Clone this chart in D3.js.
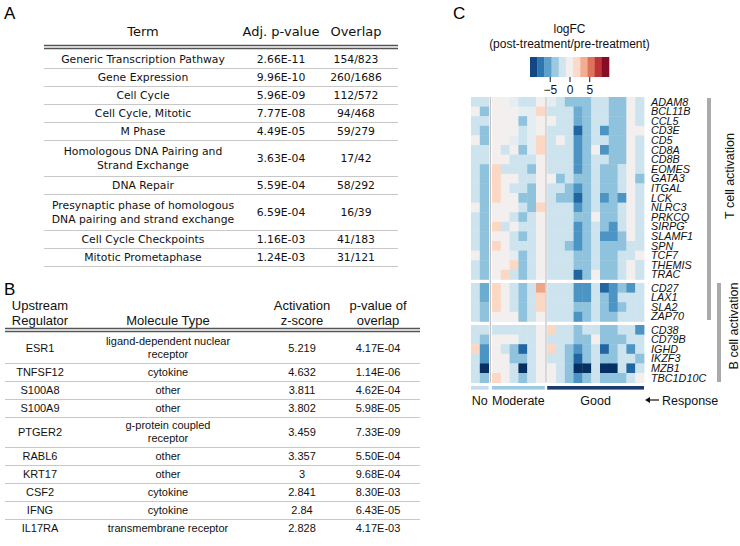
<!DOCTYPE html>
<html><head><meta charset="utf-8">
<script src="https://cdn.jsdelivr.net/npm/d3@7"></script>
<style>body{margin:0;background:#fff;} svg{display:block}</style>
</head><body>
<svg id="c" width="740" height="546"></svg>
<script>
// ---------- Panel A data ----------
const headersA = ["Term", "Adj. p-value", "Overlap"];
const termsA = ["Generic Transcription Pathway", "Gene Expression", "Cell Cycle", "Cell Cycle, Mitotic", "M Phase",
  "Homologous DNA Pairing and|Strand Exchange", "DNA Repair",
  "Presynaptic phase of homologous|DNA pairing and strand exchange", "Cell Cycle Checkpoints", "Mitotic Prometaphase"];
const adjPA = ["2.66E-11", "9.96E-10", "5.96E-09", "7.77E-08", "4.49E-05", "3.63E-04", "5.59E-04", "6.59E-04", "1.16E-03", "1.24E-03"];
const overlapA = ["154/823", "260/1686", "112/572", "94/468", "59/279", "17/42", "58/292", "16/39", "41/183", "31/121"];

// ---------- Panel B data ----------
const headersB = ["Upstream|Regulator", "Molecule Type", "Activation|z-score", "p-value of|overlap"];
const regulatorsB = ["ESR1", "TNFSF12", "S100A8", "S100A9", "PTGER2", "RABL6", "KRT17", "CSF2", "IFNG", "IL17RA"];
const moleculeTypesB = ["ligand-dependent nuclear|receptor", "cytokine", "other", "other", "g-protein coupled|receptor",
  "other", "other", "cytokine", "cytokine", "transmembrane receptor"];
const zScoresB = ["5.219", "4.632", "3.811", "3.802", "3.459", "3.357", "3", "2.841", "2.84", "2.828"];
const pValuesB = ["4.17E-04", "1.14E-06", "4.62E-04", "5.98E-05", "7.33E-09", "5.50E-04", "9.68E-04", "8.30E-03", "6.43E-05", "4.17E-03"];

// ---------- Panel C data ----------
const responseGroups = ["No", "Moderate", "Good"];
const groupSizes = [2, 6, 11];
const genes = ["ADAM8", "BCL11B", "CCL5", "CD3E", "CD5", "CD8A", "CD8B", "EOMES", "GATA3", "ITGAL", "LCK", "NLRC3", "PRKCQ",
  "SIRPG", "SLAMF1", "SPN", "TCF7", "THEMIS", "TRAC", "CD27", "LAX1", "SLA2", "ZAP70",
  "CD38", "CD79B", "IGHD", "IKZF3", "MZB1", "TBC1D10C"];
const geneBlockSizes = [19, 4, 6];
const pathwayLabels = ["T cell activation", "B cell activation"];
// columns: No(2) | Moderate(6) | Good(11)
const logFC = [
  [-2,-2, 0,0,-1,-2,-2,0, -1,-2,-4,-4,-4,-2,-2,-4,-4,0,-2],
  [0,-4, 0,0,0,-1,-1,2, -2,-2,-2,-5,-4,-2,-2,-4,-4,0,-2],
  [-2,-2, 0,0,0,-4,-1,0, 0,-2,-2,-5,-4,-2,-2,-4,-4,0,-2],
  [-2,-4, 0,0,0,-2,-1,0, -2,-2,-2,-8,-4,-2,-6,-4,-4,0,0],
  [0,-4, 0,0,-1,-2,-1,2, -2,0,-2,-6,-4,-2,-2,-4,-4,0,-2],
  [-2,-2, 0,-2,0,-4,-1,2, -2,-2,-2,-6,-4,0,-6,-4,-4,0,-2],
  [-2,-2, 0,0,-2,-2,-2,0, -2,-2,-2,-6,-4,-2,-2,-4,-4,0,-2],
  [-2,-4, 2,-2,-2,-2,-4,0, -2,-2,-2,-6,-4,-2,-4,-4,-2,0,-2],
  [-2,-4, 2,0,0,-2,-2,0, 0,-4,-2,-4,-4,-2,-4,-4,-2,0,-4],
  [-2,-4, 2,0,-2,-2,-4,0, -2,-2,-4,-6,-4,-2,-4,-4,-2,0,-2],
  [-2,-4, 2,0,0,-4,-4,0, -2,-4,-4,-8,-4,-2,-6,-4,-6,0,-2],
  [0,-4, 0,0,0,-2,-4,2, -2,-2,-2,-6,-4,-2,-4,-4,-2,0,-2],
  [-2,-4, 0,0,-2,-4,-2,0, -2,-2,-2,-4,-4,0,-4,-4,-2,0,-2],
  [-2,-4, 2,-2,0,-2,-2,0, -2,-2,-2,-6,-4,-2,-4,-6,-2,0,-2],
  [-2,-4, 0,0,-2,-4,-2,0, -2,-2,-2,-6,-4,-2,-6,-6,-4,0,-2],
  [-2,-4, 2,0,-2,-2,-2,0, -2,-2,-4,-6,-4,-2,-4,-4,-4,-2,-2],
  [0,-4, 0,0,-1,-4,-2,0, -2,-2,-2,-4,-4,-2,-4,-4,-2,-2,0],
  [-2,-4, 0,0,2,-4,-2,0, -2,-2,-2,-4,-4,-2,-4,-4,-2,0,-2],
  [-2,-4, 0,2,-2,-4,-2,0, -2,-2,-2,-8,-4,0,-4,-4,-2,0,-2],
  [-2,-5, 2,0,-2,-4,-2,4, -2,-2,-2,-6,-6,-2,-8,-6,-4,-6,-2],
  [-2,-5, 2,0,-2,-4,-2,2, -2,-2,-2,-6,-6,-2,-4,-6,-2,-2,-2],
  [-2,-4, 2,0,-2,-4,-2,2, -2,-2,-2,-4,-4,-2,-4,-6,-4,-2,-2],
  [-2,-4, 0,0,0,-4,-2,0, -2,-2,-2,-6,-4,-2,-4,-4,-2,-2,-2],
  [-2,-2, -2,-2,-2,-2,-2,0, 2,-2,-2,-4,-2,-2,-4,-4,-2,-2,-6],
  [-2,-4, 0,0,0,-2,-2,0, -2,-2,-2,-4,-4,0,-4,-4,-4,-2,-2],
  [2,-6, 0,-2,-4,-8,-2,0, 2,-2,-4,-6,-4,-2,-8,-4,-2,-6,-2],
  [-2,-6, 0,0,-4,-4,-2,0, -2,-2,-4,-8,-4,-2,-4,-4,-2,-2,-4],
  [-2,-10, 0,0,-2,-10,-2,0, 0,-2,-4,-10,-10,-2,-10,-10,-2,-8,-2],
  [-2,-4, 2,0,-2,-4,-2,0, 0,-2,-4,-6,-4,-2,-4,-4,-4,-2,0]
];
const colorbarDomain = [-10, 10];
const colorbarBins = 11;
const colorbarTicks = [-5, 0, 5];
const responseColors = ["#c6dbef", "#9ecae1", "#1b3a6f"];

// ---------------------------------------------------------
const svg = d3.select("#c");
const SANS = "'Liberation Sans', Arial, sans-serif";
const TABF = "'DejaVu Sans', Verdana, sans-serif";

function multiText(sel, str, x, yc, lh, size, family, anchor) {
  const lines = str.split("|");
  const t = sel.append("text").attr("x", x).attr("text-anchor", anchor || "middle")
    .attr("font-family", family).attr("font-size", size).attr("fill", "#111");
  const y0 = yc - (lines.length - 1) * lh / 2;
  lines.forEach((l, i) => t.append("tspan").attr("x", x).attr("y", y0 + i * lh).attr("dy", "0.35em").text(l));
  return t;
}

// ---------- Panel A ----------
const gA = svg.append("g");
gA.append("text").attr("x", 4).attr("y", 19).attr("font-family", SANS).attr("font-size", 17).text("A");
const aLeft = 44, aRight = 398;
const colXA = [143, 281, 356];
headersA.forEach((h, i) => multiText(gA, h, colXA[i], 31, 14, 13, TABF));
const rowHA = termsA.map(t => t.includes("|") ? 36 : 18);
const rowTopA = d3.cumsum([50, ...rowHA]);
gA.append("line").attr("x1", aLeft).attr("x2", aRight).attr("y1", 45.5).attr("y2", 45.5).attr("stroke", "#555").attr("stroke-width", 1.3);
gA.append("line").attr("x1", aLeft).attr("x2", aRight).attr("y1", 48.5).attr("y2", 48.5).attr("stroke", "#555").attr("stroke-width", 1.3);
termsA.forEach((t, i) => {
  const yc = rowTopA[i] + rowHA[i] / 2;
  multiText(gA, t, colXA[0], yc, 14.5, 10.8, TABF);
  multiText(gA, adjPA[i], colXA[1], yc, 14.5, 10.8, TABF);
  multiText(gA, overlapA[i], colXA[2], yc, 14.5, 10.8, TABF);
  gA.append("line").attr("x1", aLeft).attr("x2", aRight).attr("y1", rowTopA[i + 1] + 0.5).attr("y2", rowTopA[i + 1] + 0.5)
    .attr("stroke", "#c8c8c8").attr("stroke-width", 1);
});

// ---------- Panel B ----------
const gB = svg.append("g");
gB.append("text").attr("x", 4).attr("y", 295).attr("font-family", SANS).attr("font-size", 17).text("B");
const bLeft = 5, bRight = 420;
const colXB = [40, 168, 302, 378];
headersB.forEach((h, i) => multiText(gB, h, colXB[i], i === 1 ? 320 : 313, 14.5, 13, SANS));
gB.append("line").attr("x1", bLeft).attr("x2", bRight).attr("y1", 328.5).attr("y2", 328.5).attr("stroke", "#555").attr("stroke-width", 1.3);
gB.append("line").attr("x1", bLeft).attr("x2", bRight).attr("y1", 331.5).attr("y2", 331.5).attr("stroke", "#555").attr("stroke-width", 1.3);
const rowHB = moleculeTypesB.map(t => t.includes("|") ? 30 : 18);
const rowTopB = d3.cumsum([333, ...rowHB]);
regulatorsB.forEach((r, i) => {
  const yc = rowTopB[i] + rowHB[i] / 2;
  multiText(gB, r, colXB[0], yc, 13, 11, SANS);
  multiText(gB, moleculeTypesB[i], colXB[1], yc, 13, 11, SANS);
  multiText(gB, zScoresB[i], colXB[2], yc, 13, 11, SANS);
  multiText(gB, pValuesB[i], colXB[3], yc, 13, 11, SANS);
  if (i < regulatorsB.length - 1)
    gB.append("line").attr("x1", bLeft).attr("x2", bRight).attr("y1", rowTopB[i + 1] + 0.5).attr("y2", rowTopB[i + 1] + 0.5)
      .attr("stroke", "#c8c8c8").attr("stroke-width", 1);
});

// ---------- Panel C ----------
const gC = svg.append("g");
gC.append("text").attr("x", 453).attr("y", 19).attr("font-family", SANS).attr("font-size", 17).text("C");

const color = v => d3.interpolateRdBu((colorbarDomain[1] - v) / (colorbarDomain[1] - colorbarDomain[0]));

const groupRanges = [[471, 488.6], [492, 544.8], [547.2, 644]];
const xScales = groupSizes.map((n, g) => d3.scaleBand().domain(d3.range(n)).range(groupRanges[g]));
const colInfo = [];
groupSizes.forEach((n, g) => d3.range(n).forEach(i => colInfo.push({ g, i })));
const blockRanges = [[97, 279.4], [283, 321.4], [325, 382.6]];
const yScales = geneBlockSizes.map((n, b) => d3.scaleBand().domain(d3.range(n)).range(blockRanges[b]));
const rowInfo = [];
geneBlockSizes.forEach((n, b) => d3.range(n).forEach(i => rowInfo.push({ b, i })));

const cells = [];
logFC.forEach((row, r) => row.forEach((v, c) => cells.push({ r, c, v })));
gC.append("g").selectAll("rect").data(cells).join("rect")
  .attr("x", d => xScales[colInfo[d.c].g](colInfo[d.c].i))
  .attr("y", d => yScales[rowInfo[d.r].b](rowInfo[d.r].i))
  .attr("width", d => xScales[colInfo[d.c].g].bandwidth() + 0.4)
  .attr("height", d => yScales[rowInfo[d.r].b].bandwidth() + 0.4)
  .attr("fill", d => color(d.v));

[(488.6 + 492) / 2, (544.8 + 547.2) / 2].forEach(x => {
  gC.append("line").attr("x1", x).attr("x2", x).attr("y1", 97).attr("y2", 382.6)
    .attr("stroke", "#aaa").attr("stroke-width", 0.9);
});

genes.forEach((gname, r) => {
  const ys = yScales[rowInfo[r].b];
  gC.append("text").attr("x", 651).attr("y", ys(rowInfo[r].i) + ys.bandwidth() / 2).attr("dy", "0.36em")
    .attr("font-family", SANS).attr("font-style", "italic").attr("font-size", 10.8).attr("fill", "#111").text(gname);
});

responseGroups.forEach((name, g) => {
  const [a, b] = groupRanges[g];
  gC.append("rect").attr("x", a).attr("y", 386).attr("width", b - a).attr("height", 3.6).attr("fill", responseColors[g]);
  gC.append("text").attr("x", (a + b) / 2).attr("y", 400).attr("dy", "0.36em").attr("text-anchor", "middle")
    .attr("font-family", SANS).attr("font-size", 12.5).attr("fill", "#111").text(name);
});
gC.append("line").attr("x1", 648).attr("x2", 659).attr("y1", 400).attr("y2", 400).attr("stroke", "#111").attr("stroke-width", 1.2);
gC.append("path").attr("d", "M645,400 L650,397 L650,403 Z").attr("fill", "#111");
gC.append("text").attr("x", 662).attr("y", 400).attr("dy", "0.36em").attr("font-family", SANS).attr("font-size", 12.5).attr("fill", "#111").text("Response");

const pathBars = [{ x: 707, y0: 98, y1: 320, tx: 729, ty: 176 }, { x: 717, y0: 283, y1: 382, tx: 733, ty: 326 }];
pathBars.forEach((p, i) => {
  gC.append("rect").attr("x", p.x).attr("y", p.y0).attr("width", 4).attr("height", p.y1 - p.y0).attr("fill", "#aaa");
  gC.append("text").attr("transform", `translate(${p.tx},${p.ty}) rotate(-90)`).attr("text-anchor", "middle")
    .attr("dy", "0.36em").attr("font-family", SANS).attr("font-size", 12.5).attr("fill", "#111").text(pathwayLabels[i]);
});

const cbX = d3.scaleLinear().domain(colorbarDomain).range([530, 609]);
const binW = (colorbarDomain[1] - colorbarDomain[0]) / colorbarBins;
const bins = d3.range(colorbarBins).map(i => colorbarDomain[0] + i * binW);
gC.append("g").selectAll("rect").data(bins).join("rect")
  .attr("x", d => cbX(d)).attr("y", 57).attr("width", cbX(binW) - cbX(0) + 0.3).attr("height", 20)
  .attr("fill", d => color(d + binW / 2));
const axis = d3.axisBottom(cbX).tickValues(colorbarTicks).tickSize(5).tickFormat(d3.format("d"));
const ax = gC.append("g").attr("transform", "translate(0,77)").call(axis);
ax.select(".domain").remove();
ax.selectAll("text").attr("font-family", SANS).attr("font-size", 12).attr("fill", "#111");
ax.selectAll("line").attr("stroke", "#111");
gC.append("text").attr("x", 569.5).attr("y", 33).attr("text-anchor", "middle").attr("font-family", SANS).attr("font-size", 12).attr("fill", "#111").text("logFC");
gC.append("text").attr("x", 569.5).attr("y", 48).attr("text-anchor", "middle").attr("font-family", SANS).attr("font-size", 12).attr("fill", "#111").text("(post-treatment/pre-treatment)");
</script>
</body></html>
